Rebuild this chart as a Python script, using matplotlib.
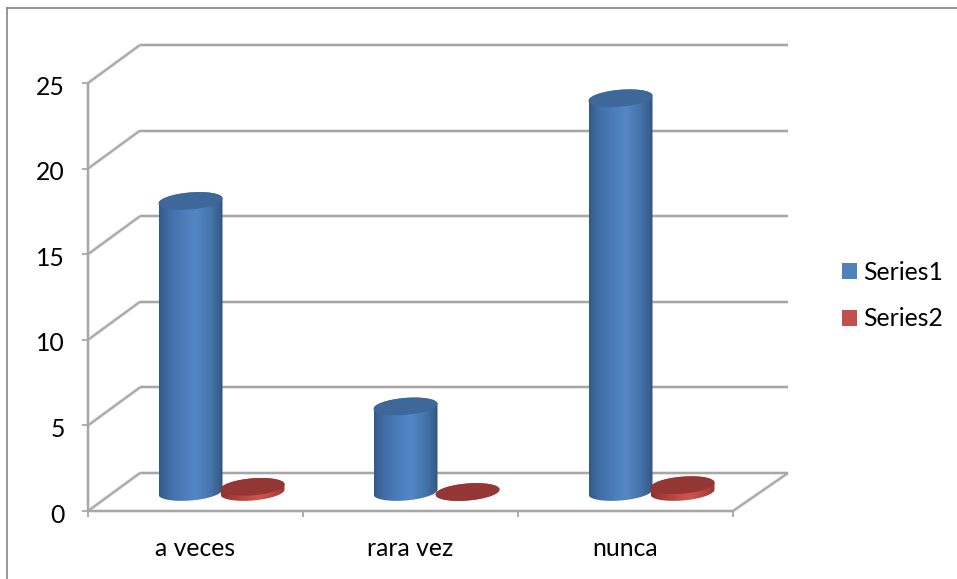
import numpy as np
import matplotlib
matplotlib.use("Agg")
import matplotlib.pyplot as plt
from matplotlib.colors import LinearSegmentedColormap
from matplotlib.lines import Line2D
from matplotlib.patches import Patch, Polygon
from matplotlib.transforms import ScaledTranslation

categories = ["a veces", "rara vez", "nunca"]
series_names = ["Series1", "Series2"]
series1 = [17, 5, 23]
series2 = [0.3, 0, 0.4]
y_ticks = [0, 5, 10, 15, 20, 25]

W, H = 957, 579
LEFT, RIGHT, TOP, BOTTOM = 88, 733, 83, 511
GRID = "#a6a6a6"
GRID_SOFT = "#e4e4e4"
FONT = "Lato"
FS = 17.8

plt.rcParams["font.family"] = [FONT, "DejaVu Sans"]
fig = plt.figure(figsize=(W / 100, H / 100), dpi=100, facecolor="white")
ax = fig.add_axes([LEFT / W, 1 - BOTTOM / H, (RIGHT - LEFT) / W, (BOTTOM - TOP) / H])
ax.set_xlim(0, len(categories))
ax.set_ylim(0, y_ticks[-1])
ax.patch.set_visible(False)

# Oblique depth of the chart box, in data units
px_x = len(categories) / (RIGHT - LEFT)
px_y = y_ticks[-1] / (BOTTOM - TOP)
DEPTH_X = 52 * px_x
DEPTH_X_RIGHT = 55 * px_x
DEPTH_Y = 38 * px_y


def wall_line(xs, ys, **kw):
    for lw, col, z in ((2.8, GRID_SOFT, 1), (1.4, GRID, 2)):
        ax.plot(xs, ys, color=col, lw=lw, clip_on=False, zorder=z,
                solid_capstyle="butt", **kw)


# Back wall gridlines and side wall lines
for v in y_ticks:
    wall_line([DEPTH_X, len(categories) + DEPTH_X_RIGHT], [v + DEPTH_Y] * 2)
    wall_line([0, DEPTH_X], [v, v + DEPTH_Y])
# Floor edges
wall_line([len(categories), len(categories) + DEPTH_X_RIGHT], [0, DEPTH_Y])
wall_line([0, len(categories)], [0, 0])
wall_line([0, 0], [0, y_ticks[-1]])

for s in ax.spines.values():
    s.set_visible(False)

# Cylinder geometry: half width, minor semi-axis and tilt of the end caps
RX = 32 * px_x
RY = 8.5 * px_y
TILT = 2.5 * px_y
OFFSET = 31 * px_x

blue_side = LinearSegmentedColormap.from_list(
    "blue_side", [(0, "#33598a"), (0.14, "#3f6ca3"), (0.35, "#4a7bb8"),
                  (0.58, "#5487c6"), (0.8, "#4674ac"), (0.93, "#3a6393"), (1, "#2f5480")])
red_side = LinearSegmentedColormap.from_list(
    "red_side", [(0, "#8c3331"), (0.3, "#b3443f"), (0.6, "#cf5450"),
                 (0.85, "#b5433f"), (1, "#963835")])
ramp = np.linspace(0, 1, 256).reshape(1, -1)


def cylinder(cx, value, side_map, top_color):
    base = DEPTH_Y / 2
    t = np.linspace(0, 2 * np.pi, 181)
    ex = RX * np.cos(t)
    ey = RY * np.sin(t) + TILT * np.cos(t)
    lower = t[:-1] >= np.pi
    upper = t[:-1] <= np.pi
    body_x = np.concatenate([cx + ex[:-1][lower], [cx + RX, cx + RX], cx + ex[:-1][upper]])
    body_y = np.concatenate([base + ey[:-1][lower], [base + TILT, base + value + TILT],
                             base + value + ey[:-1][upper]])
    body = Polygon(np.column_stack([body_x, body_y]), closed=True,
                   transform=ax.transData, fc="none", ec="none")
    ax.add_patch(body)
    body.set_clip_on(False)
    img = ax.imshow(ramp, cmap=side_map, aspect="auto", zorder=4, interpolation="bilinear",
                    extent=[cx - RX, cx + RX, base - 2 * RY, base + value + 2 * RY])
    img.set_clip_path(body)
    ax.add_patch(Polygon(np.column_stack([cx + ex, base + value + ey]), closed=True,
                         fc=top_color, ec="none", zorder=5, clip_on=False))


centers = np.arange(len(categories)) + 0.5 + DEPTH_X / 2
for c, v in zip(centers, series1):
    cylinder(c - OFFSET, v, blue_side, "#3d6899")
for c, v in zip(centers, series2):
    cylinder(c + OFFSET, v, red_side, "#943634")
ax.set_xlim(0, len(categories))
ax.set_ylim(0, y_ticks[-1])

# Axis ticks and labels
ax.set_yticks(y_ticks)
ax.set_yticklabels([str(v) for v in y_ticks], fontsize=FS, color="black")
ax.set_xticks(range(len(categories) + 1))
ax.set_xticklabels([])
ax.set_xticks(np.arange(len(categories)) + 0.5, minor=True)
ax.set_xticklabels(categories, minor=True, fontsize=FS, color="black")
ax.tick_params(axis="y", length=4.3, width=1.3, color=GRID, pad=12.6)
ax.tick_params(axis="x", which="major", length=4.3, width=1.3, color=GRID)
ax.tick_params(axis="x", which="minor", length=0, pad=18.5)

# Value labels sit slightly below their ticks
nudge = ScaledTranslation(0, -1.5 / 72, fig.dpi_scale_trans)
for label in ax.get_yticklabels():
    label.set_transform(label.get_transform() + nudge)

# Legend
handles = [Patch(fc="#4f81bd", ec="none"), Patch(fc="#c0504d", ec="none")]
fig.legend(handles, series_names, loc="upper left",
           bbox_to_anchor=(842 / W, 1 - 261 / H), bbox_transform=fig.transFigure,
           frameon=False, fontsize=FS, borderaxespad=0, borderpad=0,
           handlelength=0.6, handleheight=0.6, handletextpad=0.24, labelspacing=0.95)

# Chart area frame: only the top and left edges are in view
fig.add_artist(Line2D([7.5 / W, 7.5 / W], [0, 1 - 7.5 / H], color="#868686", lw=1.2))
fig.add_artist(Line2D([7.5 / W, 1], [1 - 7.5 / H, 1 - 7.5 / H], color="#868686", lw=1.2))

fig.savefig("out.png", dpi=100, facecolor="white")
